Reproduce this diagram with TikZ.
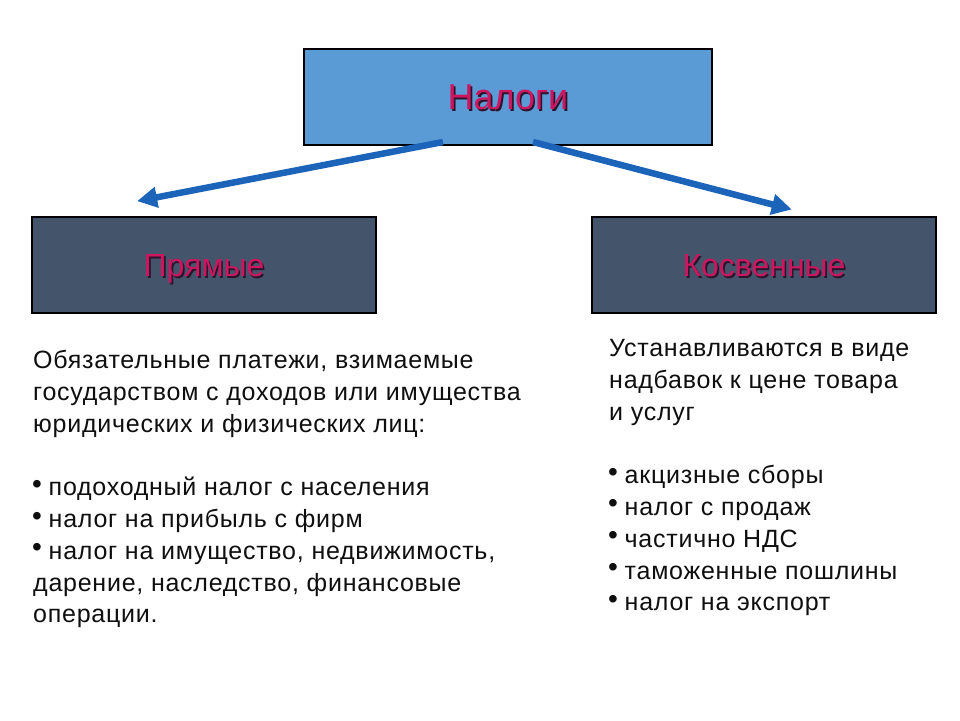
\documentclass[tikz,border=0pt]{standalone}
\usepackage{fontspec}
\setmainfont{Liberation Sans}
\newfontfamily\bodyfont[LetterSpace=3]{Liberation Sans}
\usetikzlibrary{arrows.meta}
\definecolor{topfill}{RGB}{91,155,213}
\definecolor{subfill}{RGB}{68,84,106}
\definecolor{headc}{RGB}{205,22,95}
\definecolor{shadc}{RGB}{45,20,45}
\definecolor{arrc}{RGB}{28,100,185}
\definecolor{bodyc}{RGB}{15,15,15}
\newcommand\shtext[1]{\leavevmode\rlap{\kern1.6pt\raisebox{-1.6pt}{\textcolor{shadc}{#1}}}\textcolor{headc}{#1}}
\newcommand\bul{\makebox[15.5pt][l]{\kern-1pt\fontsize{28}{28}\selectfont\raisebox{2.5pt}{•}}}
\begin{document}
\begin{tikzpicture}[x=1pt,y=-1pt,
  catbox/.style={draw=black, line width=1.3pt, inner sep=0pt, minimum height=96pt, text height=23pt, text depth=0pt},
  headtxt/.style={font=\fontsize{32}{38}\selectfont},
  bodytxt/.style={inner sep=0pt, align=left, text=bodyc, font=\bodyfont\fontsize{25}{31.8}\selectfont},
  conn/.style={draw=arrc, line width=6.5pt, -{Triangle[length=20pt,width=20pt]}, shorten >=-6pt}]
\useasboundingbox (0,0) rectangle (960,720);
\fill[white] (0,0) rectangle (960,720);

\node[catbox, fill=topfill, minimum width=408pt, font=\fontsize{36}{40}\selectfont, text height=25pt] (tax) at (508,97) {\shtext{Налоги}};
\node[catbox, fill=subfill, minimum width=344pt, headtxt] (direct) at (204,265) {\shtext{Прямые}};
\node[catbox, fill=subfill, minimum width=344pt, headtxt] (indirect) at (764,265) {\shtext{Косвенные}};

\coordinate (ls) at (443,142);
\coordinate (le) at (143,200);
\coordinate (rs) at (533,142);
\coordinate (re) at (786,208);
\draw[conn] (ls) -- (le);
\draw[conn] (rs) -- (re);

\node[bodytxt, anchor=north west] (dtext) at (33,350) {Обязательные платежи, взимаемые\\
государством с доходов или имущества\\
юридических и физических лиц:\\[31.8pt]
\bul подоходный налог с населения\\
\bul налог на прибыль с фирм\\
\bul налог на имущество, недвижимость,\\
дарение, наследство, финансовые\\
операции.};

\node[bodytxt, anchor=north west] (itext) at (609,339) {Устанавливаются в виде\\
надбавок к цене товара\\
и услуг\\[31.8pt]
\bul акцизные сборы\\
\bul налог с продаж\\
\bul частично НДС\\
\bul таможенные пошлины\\
\bul налог на экспорт};
\end{tikzpicture}
\end{document}
